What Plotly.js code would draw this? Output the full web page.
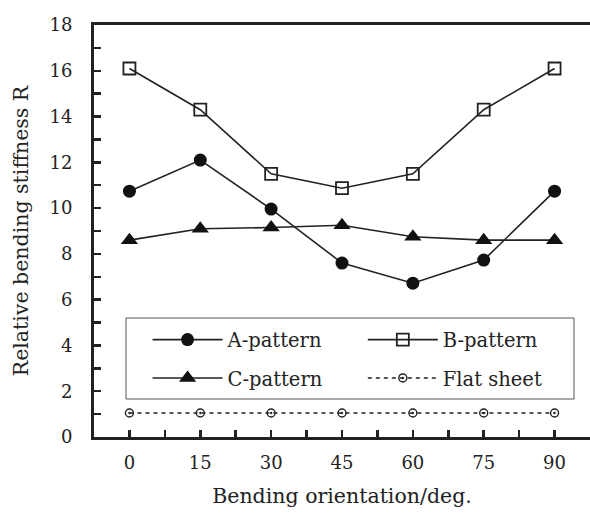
<!DOCTYPE html>
<html><head><meta charset="utf-8">
<script src="https://cdn.plot.ly/plotly-3.0.1.min.js"></script>
<style>html,body{margin:0;padding:0;background:#fff;}#chart{width:590px;height:514px;}</style>
</head><body><div id="chart"></div>
<script>
const angles = [0, 15, 30, 45, 60, 75, 90];
const aPattern = [10.74, 12.1, 9.96, 7.6, 6.72, 7.73, 10.74];
const bPattern = [16.1, 14.3, 11.5, 10.87, 11.5, 14.3, 16.1];
const cPattern = [8.6, 9.1, 9.15, 9.25, 8.75, 8.6, 8.6];
const flatSheet = [1.05, 1.05, 1.05, 1.05, 1.05, 1.05, 1.05];
const xTicks = [0, 15, 30, 45, 60, 75, 90];
const yTicks = [0, 2, 4, 6, 8, 10, 12, 14, 16, 18];

const F = "DejaVu Serif";
const lineC = '#222';
const traces = [
  {x: angles, y: aPattern, name: 'A-pattern', mode: 'lines+markers', legend: 'legend', legendgroup: 'a',
   line: {color: lineC, width: 1.6}, marker: {symbol: 'circle', size: 13, color: '#111'}},
  {x: angles, y: cPattern, name: 'C-pattern', mode: 'lines+markers', legend: 'legend', legendgroup: 'c',
   line: {color: lineC, width: 1.6}, marker: {symbol: 'triangle-up', size: 15, color: '#111'}},
  {x: angles, y: bPattern, name: 'B-pattern', mode: 'lines+markers', legend: 'legend2', legendgroup: 'b',
   line: {color: lineC, width: 1.6}, marker: {symbol: 'square-open', size: 12, color: '#222', line: {width: 1.8}}},
  {x: angles, y: flatSheet, name: 'Flat sheet', mode: 'lines+markers', legend: 'legend2', legendgroup: 'f',
   line: {color: lineC, width: 1.5, dash: '4px,4px'}, marker: {symbol: 'circle-open-dot', size: 8, color: '#222', line: {width: 1.4}}}
];

const legBase = {orientation: 'v', bgcolor: 'rgba(0,0,0,0)', borderwidth: 0, font: {family: F, size: 19.5, color: '#222'},
  itemwidth: 70, tracegroupgap: 10, xanchor: 'left', yanchor: 'top'};

const layout = {
  width: 590, height: 514,
  margin: {l: 94, r: 0, t: 25, b: 77},
  paper_bgcolor: '#fff', plot_bgcolor: '#fff',
  font: {family: F, size: 19, color: '#222'},
  showlegend: true,
  legend: Object.assign({}, legBase, {x: 0.108, y: 0.283}),
  legend2: Object.assign({}, legBase, {x: 0.542, y: 0.283}),
  shapes: [{type: 'rect', xref: 'paper', yref: 'paper', x0: (126-94)/496, x1: (574-94)/496,
            y0: (437-399)/412, y1: (437-318)/412, line: {color: '#555', width: 1}}],
  xaxis: {range: [-7.5, 97.5], tickvals: xTicks, ticktext: xTicks.map(String),
    showline: true, linewidth: 3, linecolor: '#222', mirror: true, showgrid: false, zeroline: false,
    ticks: 'inside', ticklen: 7, tickwidth: 2.5, tickcolor: '#222', ticklabelstandoff: 7,
    minor: {tickvals: [7.5, 22.5, 37.5, 52.5, 67.5, 82.5, 97.5], ticks: 'inside', ticklen: 7, tickwidth: 2.5, tickcolor: '#222'},
    tickfont: {family: F, size: 18, color: '#222'},
    title: {text: 'Bending orientation/deg.', font: {family: F, size: 20.5, color: '#222'}, standoff: 18}},
  yaxis: {range: [0, 18], tickvals: yTicks, ticktext: yTicks.map(String),
    showline: true, linewidth: 3, linecolor: '#222', mirror: false, showgrid: false, zeroline: false,
    ticks: 'inside', ticklen: 7, tickwidth: 2.5, tickcolor: '#222', ticklabelstandoff: 15,
    minor: {dtick: 1, ticks: 'inside', ticklen: 7, tickwidth: 2.5, tickcolor: '#222'},
    tickfont: {family: F, size: 18, color: '#222'},
    title: {text: 'Relative bending stiffness R', font: {family: F, size: 20.5, color: '#222'}, standoff: 16}}
};

Plotly.newPlot('chart', traces, layout, {displayModeBar: false, staticPlot: true});
</script></body></html>
